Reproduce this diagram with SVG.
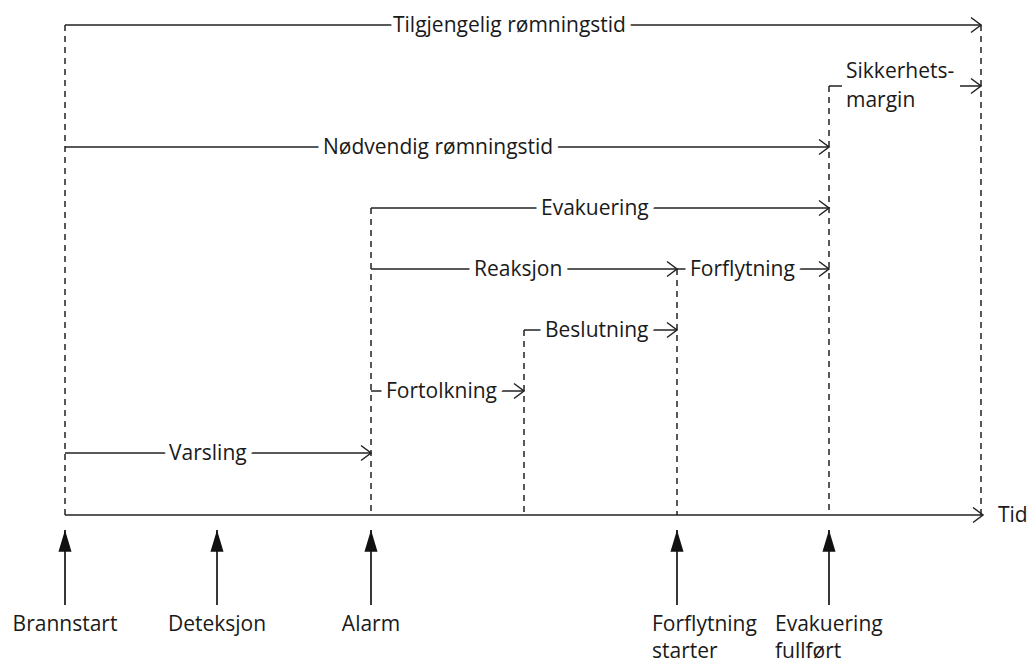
<svg xmlns="http://www.w3.org/2000/svg" width="1027" height="663" viewBox="0 0 1027 663">
<style>
text{font-family:"Open Sans","Noto Sans","Liberation Sans",sans-serif;font-size:21px;fill:#1a1a1a}
.lbl{stroke:#fff;stroke-width:13px;paint-order:stroke;stroke-linejoin:round}
.dash{stroke:#222;stroke-width:1.5;stroke-dasharray:6 5;fill:none}
.span{stroke:#222;stroke-width:1.5;fill:none;marker-end:url(#open)}
.up{stroke:#222;stroke-width:1.8;fill:none;marker-end:url(#solid)}
</style>
<defs>
<marker id="open" markerUnits="userSpaceOnUse" markerWidth="14" markerHeight="20" viewBox="-12 -9 14 18" refX="0" refY="0" orient="auto" overflow="visible">
<path d="M-10,-7.5 L0,0 L-10,7.5" fill="none" stroke="#222" stroke-width="1.5"/>
</marker>
<marker id="solid" markerUnits="userSpaceOnUse" markerWidth="24" markerHeight="16" viewBox="-20 -7 22 14" refX="0" refY="0" orient="auto" overflow="visible">
<path d="M-20,-6 L0,0 L-20,6 Z" fill="#111"/>
</marker>
</defs>
<g id="connectors">
<line class="dash" x1="65" y1="25" x2="65" y2="515"/>
<line class="dash" x1="371" y1="208" x2="371" y2="515"/>
<line class="dash" x1="524" y1="330" x2="524" y2="515"/>
<line class="dash" x1="677" y1="269" x2="677" y2="515"/>
<line class="dash" x1="829" y1="86" x2="829" y2="515"/>
<line class="dash" x1="981" y1="25" x2="981" y2="515"/>
<line class="span" x1="65" y1="25" x2="981" y2="25"/>
<line class="span" x1="829" y1="86" x2="981" y2="86"/>
<line class="span" x1="65" y1="147" x2="829" y2="147"/>
<line class="span" x1="371" y1="208" x2="829" y2="208"/>
<line class="span" x1="371" y1="269" x2="677" y2="269"/>
<line class="span" x1="677" y1="269" x2="829" y2="269"/>
<line class="span" x1="524" y1="330" x2="677" y2="330"/>
<line class="span" x1="371" y1="391" x2="524" y2="391"/>
<line class="span" x1="65" y1="453" x2="371" y2="453"/>
<line class="span" x1="65" y1="515" x2="983" y2="515"/>
<line class="up" x1="65" y1="605" x2="65" y2="530"/>
<line class="up" x1="217" y1="605" x2="217" y2="530"/>
<line class="up" x1="371" y1="605" x2="371" y2="530"/>
<line class="up" x1="677" y1="605" x2="677" y2="530"/>
<line class="up" x1="829" y1="605" x2="829" y2="530"/>
</g>
<g id="span-labels">
<text class="lbl" x="393" y="32">Tilgjengelig rømningstid</text>
<g id="sikkerhetsmargin"><rect x="842" y="62" width="118" height="52" fill="#fff"/><text x="846" y="78">Sikkerhets-</text><text x="846" y="107">margin</text></g>
<text class="lbl" x="323" y="154">Nødvendig rømningstid</text>
<text class="lbl" x="541" y="215">Evakuering</text>
<text class="lbl" x="474" y="276">Reaksjon</text>
<text class="lbl" x="690" y="276">Forflytning</text>
<text class="lbl" x="545" y="337">Beslutning</text>
<text class="lbl" x="386" y="398">Fortolkning</text>
<text class="lbl" x="169" y="460">Varsling</text>
<text x="998" y="522">Tid</text>
</g>
<g id="events">
<text x="65" y="631" text-anchor="middle">Brannstart</text>
<text x="217" y="631" text-anchor="middle">Deteksjon</text>
<text x="371" y="631" text-anchor="middle">Alarm</text>
<text x="652" y="631">Forflytning</text>
<text x="652" y="658">starter</text>
<text x="775" y="631">Evakuering</text>
<text x="775" y="658">fullført</text>
</g>
</svg>
